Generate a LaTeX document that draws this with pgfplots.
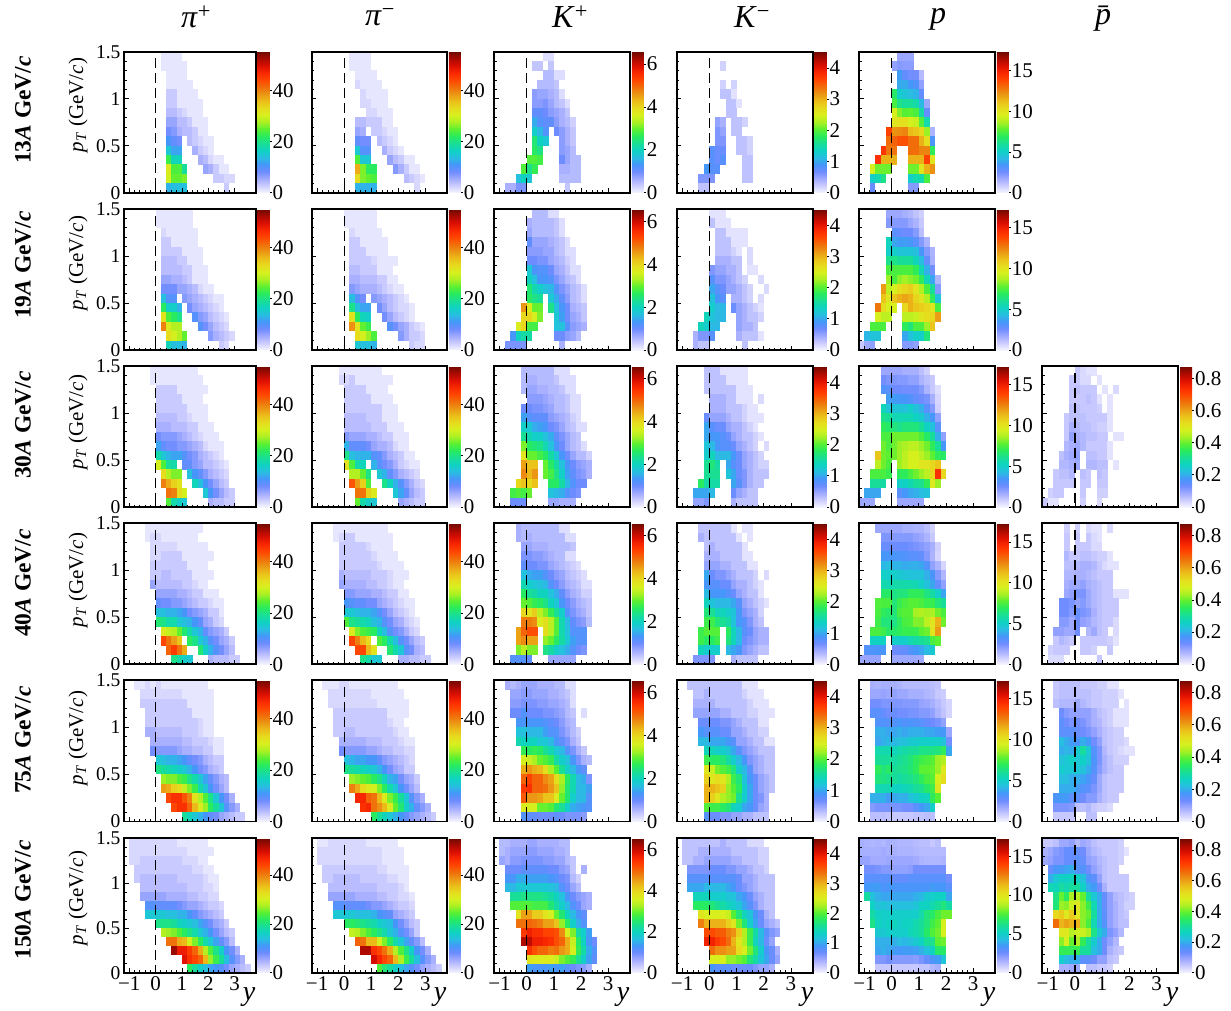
\documentclass[border=0pt]{standalone}
\usepackage{fontspec}
\setmainfont{Liberation Serif}
\usepackage{pgfplots}
\pgfplotsset{compat=1.18}
\newcount\rowk \newcount\binj
\def\mycoords{}
\def\R#1#2{\global\binj=#1\relax
 \pgfmathsetmacro\Ycur{0.1*\the\rowk+0.05}%
 \foreach \cv in {#2}{\if x\cv\else\pgfmathsetmacro\Xcur{0.2*\the\binj+0.1}\xdef\mycoords{\mycoords(\Xcur,\Ycur)[\cv]}\fi\global\advance\binj by 1 }%
 \global\advance\rowk by -1 }
\pgfdeclareplotmark{cell}{\pgfpathrectanglecorners{\pgfpoint{-\cellw pt}{-\cellh pt}}{\pgfpoint{\cellw pt}{\cellh pt}}\pgfusepathqfill}
\pgfplotsset{
 colormap={na}{rgb255(0pt)=(245,245,255);rgb255(5pt)=(205,205,255);rgb255(10pt)=(160,170,255);rgb255(15pt)=(110,140,255);rgb255(20pt)=(70,150,250);rgb255(25pt)=(40,190,225);rgb255(30pt)=(15,210,195);rgb255(35pt)=(25,222,150);rgb255(40pt)=(40,235,95);rgb255(45pt)=(90,240,50);rgb255(50pt)=(170,240,35);rgb255(55pt)=(215,240,30);rgb255(60pt)=(230,220,30);rgb255(65pt)=(235,190,25);rgb255(70pt)=(235,150,20);rgb255(75pt)=(240,110,10);rgb255(80pt)=(255,70,0);rgb255(85pt)=(250,40,0);rgb255(90pt)=(220,15,0);rgb255(95pt)=(170,10,0);rgb255(100pt)=(110,10,0)},
 panel/.style={scale only axis,xmin=-1.2,xmax=3.8,ymin=0,ymax=1.5,axis on top,clip mode=individual,
  axis line style={line width=1.8pt},
  xtick={-1,0,1,2,3},ytick={0,0.5,1,1.5},minor x tick num=4,minor y tick num=4,
  xtick pos=bottom,ytick pos=left,tick align=inside,
  major tick length=4.5pt,minor tick length=2.5pt,
  every tick/.style={black,line width=0.8pt},
  xticklabels={},yticklabels={},
  xticklabel style={font=\fontsize{21}{23}\selectfont},
  yticklabel style={font=\fontsize{19.5}{21}\selectfont},
  colorbar right,
  colorbar style={at={(parent axis.north east)},anchor=north west,xshift=-6.7pt,width=12pt,
   ytick pos=right,yticklabel pos=right,tick align=outside,major tick length=2pt,
   axis line style={draw=none},every tick/.style={black,line width=0.7pt},
   yticklabel style={font=\fontsize{21}{23}\selectfont,xshift=-2.5pt}},
 },
 pip/.style={point meta min=0,point meta max=55,colorbar style={ytick={0,20,40},yticklabels={0,20,40}}},
 kp/.style={point meta min=0,point meta max=6.57,colorbar style={ytick={0,2,4,6},yticklabels={0,2,4,6}}},
 km/.style={point meta min=0,point meta max=4.52,colorbar style={ytick={0,1,2,3,4},yticklabels={0,1,2,3,4}}},
 pr/.style={point meta min=0,point meta max=17.3,colorbar style={ytick={0,5,10,15},yticklabels={0,5,10,15}}},
 pb/.style={point meta min=0,point meta max=0.876,colorbar style={ytick={0,0.2,0.4,0.6,0.8},yticklabels={0,0.2,0.4,0.6,0.8}}},
 xl/.style={xticklabels={−1,0,1,2,3}},
 yl/.style={yticklabels={0,0.5,1,1.5}},
 hcell/.style={scatter,only marks,scatter src=explicit,mark=cell},
}
\newcommand\Panel[7]{\global\rowk=14 \gdef\mycoords{}#7%
 \pgfmathsetmacro\cellw{#3/50+0.1}\pgfmathsetmacro\cellh{#4/30+0.1}%
 \begin{axis}[panel,#5,#6,at={(#1pt,-#2pt)},anchor=north west,width=#3pt,height=#4pt]
 \edef\temp{\noexpand\addplot[hcell] coordinates {\mycoords};}\temp
 \addplot[black,line width=1.2pt,dash pattern=on 10pt off 5pt] coordinates {(0,1.43)(0,0)};
 \end{axis}}
% ---- pi+
\def\PPa{\R{1}{1,1,1,1}\R{1}{1,1,1,1,1}\R{2}{1,1,1,1}\R{2}{1,1,1,1,1}\R{2}{3,3,1,1,1,1}\R{2}{3,3,1,1,1,1,1}\R{2}{4,4,3,2,1,1,1}\R{2}{6,6,4,4,3,1,1,1}\R{2}{8,7,5,4,4,3,1,1}\R{2}{11,9,8,x,4,3,2,1,1}\R{2}{15,12,12,x,x,5,3,2,1}\R{2}{23,17,17,x,x,x,5,4,2,1,1}\R{2}{31,24,24,19,x,x,x,6,5,3,1,1}\R{2}{30,25,25,26,x,x,x,x,x,3,3,2,2}\R{2}{13,14,14,14,x,x,x,x,x,x,x,3}}
\def\PPb{\R{0}{1,1,1,1,1,1,1}\R{0}{1,1,1,1,1,1,1}\R{1}{2,1,1,1,1,1,1}\R{1}{3,3,1,1,1,1,1}\R{1}{3,3,3,3,1,1,1,1}\R{1}{4,4,4,3,3,1,1,1}\R{1}{4,4,4,4,3,3,1,1,1}\R{1}{6,6,5,5,4,3,1,1,1}\R{1}{8,8,8,6,6,5,4,2,1,1}\R{1}{14,10,10,x,7,6,5,4,3,2,1,1}\R{1}{22,16,16,13,x,8,6,5,4,3,2,1}\R{1}{32,24,22,20,x,x,10,7,6,4,3,2,1}\R{1}{40,31,28,28,x,x,x,10,8,6,4,3,2}\R{2}{33,30,28,25,x,x,x,x,7,5,4,3,2}\R{2}{17,14,14,13,x,x,x,x,x,x,3,2}}
\def\PPc{\R{-1}{1,1,1,1,1,1,1,1,1}\R{-1}{1,1,1,1,1,1,1,1,1,1}\R{0}{3,3,3,3,1,1,1,1,1,1}\R{0}{3,3,3,3,3,1,1,1,1}\R{0}{3,3,3,3,3,3,1,1,1,1}\R{0}{4,4,4,4,3,3,2,1,1,1}\R{0}{5,5,5,4,4,4,3,3,1,1,1}\R{0}{8,7,7,7,6,5,4,3,2,1,1,1}\R{0}{12,9,8,8,7,7,6,5,4,2,1,1,1}\R{0}{18,15,13,12,12,10,8,7,5,4,3,2,1}\R{0}{30,24,19,18,x,9,9,7,6,4,4,3,2,1}\R{1}{33,28,26,26,x,14,11,9,7,5,4,3,2}\R{1}{40,37,34,32,x,x,17,14,11,8,6,4,3}\R{2}{41,40,33,30,x,x,x,15,11,8,6,4,3}\R{2}{24,18,16,15,x,x,x,x,5,4,4,3,3}}
\def\PPd{\R{-2}{1,1,1,1,1,1,1,1,1,1,1}\R{-2}{1,2,2,1,1,1,1,1,1,1}\R{-1}{2,2,2,2,2,1,1,1,1,1,1}\R{-1}{2,2,3,3,3,3,1,1,1,1,1,1}\R{-1}{3,3,3,3,3,3,3,1,1,1,1}\R{-1}{3,3,4,4,3,3,3,3,1,1,1,1}\R{-1}{6,4,4,4,4,4,3,3,2,1,1}\R{0}{6,6,6,6,5,5,4,3,3,1,1,1}\R{0}{9,8,8,7,7,6,5,4,3,3,2,1,1}\R{0}{14,14,13,13,12,11,8,7,6,5,3,3,1}\R{0}{21,20,18,18,15,14,13,11,9,6,5,3,2}\R{1}{31,29,28,25,21,18,15,13,9,7,6,5,3}\R{1}{44,41,38,35,x,22,20,15,13,10,8,6,5,3}\R{2}{42,45,41,37,x,x,21,16,13,10,8,6,4}\R{3}{20,18,16,15,x,x,x,5,4,4,4,3,3}}
\def\PPe{\R{-4}{1,1,2,1,2,1,1,1,1,1,1,1,1,1}\R{-3}{2,2,2,2,2,2,2,2,1,1,1,1,1,1}\R{-3}{3,3,3,3,3,3,3,3,3,1,1,1,1,1}\R{-2}{3,3,3,3,3,3,3,3,3,1,1,1,1}\R{-2}{3,3,3,3,3,3,3,3,3,3,2,1,1}\R{-2}{5,5,4,4,4,4,4,3,3,3,2,1,1}\R{-1}{5,5,5,5,5,5,4,4,3,3,3,2,1,1}\R{-1}{8,7,7,7,7,6,5,5,4,4,3,3,1,1}\R{0}{15,14,13,13,12,11,9,8,7,5,4,3,3}\R{0}{20,19,18,17,16,15,13,11,8,7,5,4,3}\R{1}{27,26,26,24,23,20,18,15,12,9,7,5,4}\R{1}{38,37,34,33,29,26,23,18,15,11,8,6,4}\R{2}{44,46,46,43,40,32,28,24,20,15,11,8,5}\R{3}{44,46,46,42,36,31,27,22,19,15,10,7,5}\R{5}{19,17,15,13,11,9,8,6,5,4,3,3}}
\def\PPf{\R{-5}{2,2,2,2,2,2,2,2,2,1,1,1,1,1,1}\R{-5}{2,2,2,2,2,2,2,2,2,2,2,1,1,1,1,1}\R{-5}{2,2,3,3,3,3,3,3,3,3,2,2,2,1,1}\R{-4}{3,3,3,3,3,3,3,3,3,3,3,2,2,1,1}\R{-4}{3,4,4,4,4,4,4,4,3,3,3,3,3,2,1,1}\R{-3}{4,4,4,4,4,4,4,4,4,3,3,3,2,2,1}\R{-3}{6,6,6,6,6,5,5,5,5,4,4,3,3,2,2}\R{-2}{10,10,9,9,9,9,8,7,6,6,5,4,3,3,2}\R{-2}{15,15,15,15,14,14,13,13,11,9,7,6,5,4,3}\R{0}{20,20,20,19,17,16,15,14,12,10,8,6,5,3}\R{1}{28,27,26,24,22,20,18,15,13,11,8,6,4,3}\R{2}{41,41,37,36,30,26,22,18,15,12,9,7,4}\R{3}{53,48,48,45,42,37,28,24,20,16,11,8,5}\R{5}{49,46,44,42,36,27,23,19,14,10,7,5}\R{6}{22,19,16,14,12,11,10,8,6,5,4,3}}
% ---- pi-
\def\PMa{\R{1}{1,1,1,1}\R{1}{1,1,1,1}\R{2}{1,1,1,1}\R{2}{2,1,1,1,1}\R{3}{2,1,1,1,1}\R{3}{2,2,1,1,1}\R{4}{2,2,1,1,1}\R{2}{4,4,3,3,3,1,1}\R{2}{6,5,x,3,3,2,1,1}\R{2}{9,8,8,x,4,3,2,1}\R{2}{15,10,10,x,x,5,3,2,1}\R{2}{24,15,15,x,x,x,6,4,3,1,1}\R{2}{37,26,22,22,x,x,x,7,5,3,1,1}\R{2}{33,26,25,24,x,x,x,x,x,4,3,2,1}\R{2}{13,13,13,13,x,x,x,x,x,x,x,2}}
\def\PMb{\R{0}{1,1,1,1,1,1}\R{0}{1,1,1,1,1,1}\R{1}{2,1,1,1,1,1}\R{1}{3,3,1,1,1,1,1}\R{1}{3,3,3,1,1,1,1}\R{1}{3,3,3,3,2,1,1,1,1}\R{1}{4,4,3,3,3,1,1,1}\R{1}{5,5,4,4,4,3,3,1,1}\R{1}{7,6,5,5,5,4,3,2,1,1}\R{1}{14,10,8,x,7,6,5,4,3,2,1}\R{1}{20,14,12,12,x,8,6,4,3,2,2,1}\R{1}{32,22,17,16,x,x,8,6,4,3,2,1}\R{1}{39,32,25,23,x,x,x,10,8,6,5,3,2,1}\R{2}{33,30,27,24,x,x,x,x,7,5,3,3,2}\R{2}{15,14,14,13,x,x,x,x,x,x,3,2,2}}
\def\PMc{\R{-1}{1,1,1,1,1,1,1,1}\R{-1}{2,2,3,1,1,1,1,1,1,1}\R{0}{3,3,3,3,1,1,1,1}\R{0}{3,3,3,3,3,1,1,1,1}\R{0}{3,3,3,3,3,3,3,1,1,1}\R{0}{4,4,4,4,3,3,3,1,1,1}\R{0}{4,4,4,4,4,3,3,3,1,1,1}\R{0}{7,6,6,6,5,5,4,3,3,1,1,1}\R{0}{13,9,9,9,8,6,5,5,4,2,1,1}\R{0}{20,14,13,13,13,10,9,7,5,4,3,1,1}\R{0}{32,24,18,17,x,13,10,8,7,5,3,2,1,1}\R{1}{28,28,25,20,x,15,13,9,7,5,4,3,2}\R{1}{43,38,34,24,x,x,20,17,13,10,7,5,3,2}\R{2}{41,41,34,31,x,x,x,15,12,9,6,4,3}\R{2}{25,18,16,15,x,x,x,x,6,5,4,3,3}}
\def\PMd{\R{-2}{1,1,1,1,1,1,1,1,1,1}\R{-2}{1,2,3,3,1,1,1,1,1,1,1}\R{-1}{3,3,3,3,3,2,1,1,1,1}\R{-1}{3,3,3,3,3,3,2,1,1,1,1}\R{-1}{3,3,3,3,3,3,3,2,1,1,1,1}\R{-1}{5,4,4,4,4,4,3,3,3,2,1,1,1}\R{-1}{6,5,5,5,5,4,4,3,3,2,1,1}\R{0}{7,7,6,6,6,5,5,4,3,3,1,1}\R{0}{11,10,9,9,8,8,6,5,4,3,2,1,1}\R{0}{15,15,14,13,13,12,10,8,6,4,3,2,1}\R{0}{24,20,19,18,17,14,13,10,8,6,5,3,2,1}\R{1}{31,26,24,23,22,17,14,10,8,7,5,3,2}\R{1}{44,40,36,33,x,24,22,18,14,10,8,6,4,3}\R{2}{44,44,36,32,x,x,21,18,15,10,8,5,4}\R{3}{20,18,15,15,x,x,x,5,5,4,4,3,3}}
\def\PMe{\R{-4}{1,1,1,2,2,1,1,1,1,1,1,1,1,1}\R{-3}{2,2,2,2,2,2,2,2,1,1,1,1,1,1}\R{-3}{2,2,2,2,2,2,2,2,2,1,1,1,1,1,1}\R{-2}{3,3,3,3,3,3,3,3,3,3,1,1,1,1}\R{-2}{3,3,3,3,3,3,3,3,3,3,2,1,1}\R{-2}{3,3,4,4,3,3,3,3,3,3,3,2,1,1}\R{-1}{5,5,5,5,5,4,4,4,3,3,3,2,1,1}\R{-1}{8,7,7,7,7,6,6,5,4,4,3,3,2,2}\R{0}{14,13,12,12,11,11,9,7,6,5,4,3,2}\R{0}{20,19,18,17,16,15,13,11,8,6,5,3,3}\R{1}{27,26,25,24,22,20,17,13,12,8,6,5,3}\R{1}{40,37,33,31,30,26,22,18,15,11,8,6,4}\R{2}{47,47,42,41,36,31,26,23,19,15,10,7,5}\R{3}{46,47,41,39,36,31,25,21,16,13,9,7,5}\R{5}{22,19,17,15,13,11,9,7,6,5,4,3}}
\def\PMf{\R{-5}{1,1,2,2,2,2,2,2,2,1,1,1,1,1,1}\R{-5}{2,2,2,2,2,2,2,2,2,2,2,2,1,1,1,1}\R{-5}{2,2,2,2,2,2,2,2,2,2,2,2,1,1,1,1}\R{-4}{3,3,3,3,3,3,3,3,3,3,2,2,1,1,1,1}\R{-4}{3,3,4,4,4,4,4,3,3,3,3,3,2,2,1,1}\R{-3}{4,4,4,4,4,4,4,4,4,3,3,3,3,2,1}\R{-3}{6,6,6,6,6,5,5,5,5,4,4,3,3,2,2,1}\R{-2}{10,10,9,9,9,9,8,7,7,6,5,4,3,3,2}\R{-2}{15,15,15,15,14,14,14,13,11,10,9,6,5,4,3}\R{0}{22,22,21,20,19,18,16,15,14,11,8,6,4,3}\R{1}{29,28,26,24,22,20,18,15,13,10,8,6,3}\R{2}{42,41,36,36,30,26,22,18,15,12,9,7,4}\R{3}{52,52,46,44,41,37,28,24,20,16,11,8,5}\R{5}{50,47,44,42,36,28,23,19,14,10,7,5}\R{6}{24,21,19,16,14,12,10,8,6,5,4,3}}
% ---- K+
\def\KPa{\R{3}{0.2,0.2}\R{1}{0.4,0.4,x,0.4}\R{3}{0.5,0.5,0.2,0.2}\R{2}{0.5,0.5,0.5,0.4}\R{1}{0.8,0.7,0.7,0.6,0.5,0.2}\R{1}{0.8,0.8,0.9,0.7,0.5,0.4,0.2}\R{1}{1.1,1.1,1.0,0.8,0.7,0.6,0.4}\R{1}{1.5,1.2,1.1,1.1,0.8,0.6,0.5,0.3}\R{1}{1.9,1.6,1.2,x,1.0,0.8,0.6,0.4}\R{1}{2.5,2.0,1.8,x,x,0.8,0.6,0.4}\R{1}{2.6,2.4,x,x,x,0.8,0.7,0.5}\R{0}{2.9,2.9,2.8,x,x,x,1.0,0.7,0.5,0.5}\R{-1}{2.9,2.4,2.7,x,x,x,x,0.6,0.6,0.5,0.5}\R{-2}{1.7,2.0,1.8,x,x,x,x,x,0.5,0.5,0.5,0.5}\R{-4}{0.6,0.6,0.9,0.9,x,x,x,x,x,x,x,0.4}}
\def\KPb{\R{1}{0.5,0.5,0.5,0.2,0.2}\R{0}{0.6,0.5,0.5,0.5,0.5,0.4,0.2}\R{0}{0.7,0.5,0.5,0.5,0.5,0.4,0.2}\R{0}{1.1,0.7,0.7,0.7,0.6,0.5,0.4,0.2}\R{0}{0.8,0.8,0.8,0.7,0.7,0.5,0.4,0.2,0.2}\R{0}{1.0,1.0,0.9,0.9,0.7,0.6,0.5,0.3,0.2}\R{0}{1.8,1.3,1.2,1.2,1.0,0.7,0.6,0.4,0.2,0.2}\R{0}{2.0,1.7,1.3,1.3,1.2,0.9,0.7,0.5,0.4,0.2}\R{0}{2.5,2.1,1.9,1.7,1.6,1.2,0.9,0.7,0.5,0.4,0.2}\R{0}{2.6,2.4,2.3,x,1.8,1.5,1.1,0.8,0.5,0.4,0.2}\R{-1}{4.6,3.7,3.0,3.0,x,2.4,1.7,1.3,1.0,0.6,0.5,0.4}\R{-1}{4.0,4.0,3.6,3.1,x,x,1.8,1.4,1.0,0.7,0.6,0.4}\R{-2}{3.7,4.0,2.8,2.8,x,x,x,1.7,1.7,1.2,0.8,0.7,0.6}\R{-3}{1.3,2.0,2.2,2.2,x,x,x,x,1.0,1.0,0.8,0.7,0.5}\R{-4}{0.9,0.9,0.9,0.9,x,x,x,x,x,x,0.6}}
\def\KPc{\R{-1}{0.5,0.5,0.5,0.5,0.5,0.5,0.2,0.2,0.2}\R{-1}{0.5,0.6,0.6,0.5,0.5,0.5,0.4,0.2,0.2,0.2}\R{-1}{0.5,0.7,0.7,0.6,0.6,0.5,0.5,0.4,0.2,0.2}\R{0}{0.8,0.8,0.8,0.7,0.6,0.5,0.5,0.4,0.2,0.2}\R{-1}{1.0,1.0,0.9,0.9,0.8,0.7,0.5,0.5,0.4,0.2,0.2}\R{-1}{1.4,1.2,1.1,1.1,1.1,0.8,0.7,0.6,0.5,0.3,0.2}\R{-1}{1.9,1.8,1.5,1.4,1.3,1.0,0.9,0.7,0.5,0.4,0.2,0.2}\R{-1}{2.3,2.1,1.9,1.9,1.7,1.5,1.1,0.9,0.7,0.5,0.4}\R{-1}{3.1,2.6,2.5,2.4,2.1,1.7,1.3,1.0,0.7,0.5,0.4,0.2}\R{-1}{3.8,3.0,3.0,2.8,2.6,2.2,1.8,1.3,1.0,0.7,0.5,0.5,0.3}\R{-1}{4.5,4.2,4.2,x,3.0,2.6,2.2,1.7,1.3,1.0,0.8,0.7,0.6}\R{-1}{4.7,4.3,4.6,x,3.0,2.8,2.4,1.9,1.4,1.1,0.9,0.8,0.6}\R{-2}{4.0,4.2,4.0,4.2,x,x,2.6,2.6,2.2,1.6,1.2,1.0,1.0}\R{-3}{2.8,2.9,2.8,3.0,x,x,x,1.7,1.6,1.5,1.2,1.0,0.9}\R{-3}{1.0,1.0,1.0,x,x,x,x,0.7,0.7,0.6,0.6,0.6}}
\def\KPd{\R{-2}{0.6,0.5,0.5,0.5,0.5,0.5,0.5,0.5,0.2,0.2}\R{-2}{0.6,0.5,0.6,0.5,0.5,0.5,0.5,0.5,0.5,0.2,0.2}\R{-1}{0.7,0.7,0.6,0.6,0.6,0.5,0.5,0.5,0.5,0.4}\R{-1}{0.9,0.9,0.8,0.8,0.7,0.6,0.5,0.5,0.2,0.2}\R{-1}{1.1,1.0,1.0,0.9,0.9,0.7,0.6,0.5,0.4,0.3,0.2}\R{-1}{1.7,1.5,1.4,1.4,1.2,1.0,0.8,0.7,0.5,0.4,0.3,0.2}\R{-1}{2.1,1.9,1.8,1.7,1.6,1.2,1.0,0.8,0.6,0.5,0.4,0.2,0.2}\R{-1}{2.6,2.3,2.2,2.0,2.0,1.7,1.5,1.1,0.8,0.6,0.5,0.3,0.3}\R{-1}{3.0,2.9,2.7,2.6,2.4,2.0,1.8,1.3,1.0,0.8,0.6,0.5,0.4}\R{-1}{4.0,3.8,4.1,3.4,3.1,2.7,2.3,1.9,1.2,0.9,0.7,0.6,0.4}\R{-1}{4.8,4.8,4.7,3.7,3.9,3.4,2.9,2.1,1.6,1.1,0.9,0.8,0.5}\R{-2}{4.5,5.0,5.2,5.2,x,3.9,3.4,2.9,2.1,1.7,1.2,1.2,1.2}\R{-2}{4.5,4.7,4.5,4.5,x,3.2,3.0,2.6,2.2,1.8,1.4,1.2,1.2}\R{-2}{3.1,3.4,3.1,3.1,x,2.4,2.2,1.9,1.7,1.5,1.2,1.0,0.9}\R{-3}{1.2,1.2,1.2,1.1,x,x,x,0.7,0.7,0.7,0.7,0.7}}
\def\KPe{\R{-4}{0.6,0.5,0.6,0.7,0.7,0.7,0.6,0.6,0.6,0.5,0.5,0.2,0.2}\R{-3}{0.7,0.7,0.8,0.8,0.7,0.7,0.7,0.6,0.6,0.5,0.4,0.2}\R{-3}{0.8,0.8,0.9,0.9,0.9,0.8,0.8,0.7,0.7,0.6,0.5,0.2}\R{-3}{1.0,1.0,1.2,1.0,1.0,1.0,0.9,0.9,0.8,0.7,0.5,0.4,x,0.2}\R{-2}{1.3,1.3,1.3,1.3,1.3,1.2,1.1,1.0,0.8,0.6,0.5}\R{-2}{1.7,1.7,1.6,1.6,1.6,1.4,1.2,1.2,0.9,0.7,0.5,0.3}\R{-2}{2.1,2.0,2.0,2.0,1.8,1.8,1.6,1.3,1.1,0.9,0.6,0.4}\R{-1}{2.7,2.6,2.7,2.6,2.3,2.1,1.8,1.6,1.2,0.9,0.6,0.4}\R{-1}{3.6,3.5,3.3,3.0,2.9,2.7,2.2,1.9,1.7,1.3,0.9,0.6,0.5}\R{-1}{4.4,4.6,4.4,4.3,3.9,3.3,2.9,2.3,1.9,1.6,1.3,1.1}\R{-1}{5.0,5.3,5.0,5.0,4.7,4.5,3.9,3.3,2.6,2.1,1.6,1.5,0.9}\R{-1}{5.4,5.5,5.0,5.0,4.9,4.6,4.2,3.2,2.5,2.1,1.6,1.6,1.4}\R{-1}{5.1,4.6,4.6,4.5,4.2,4.2,3.7,3.0,2.5,1.9,1.6,1.6,1.2}\R{-1}{3.7,3.6,3.6,3.0,3.0,2.9,2.5,2.3,1.9,1.5,1.4,1.3,1.2}\R{-1}{1.2,1.1,1.1,1.0,1.0,1.0,1.1,1.0,0.9,0.9,0.9,0.8}}
\def\KPf{\R{-5}{0.5,0.5,0.6,0.6,0.6,0.7,0.7,0.6,0.6,0.6,0.6,0.5,0.5}\R{-5}{0.5,0.6,0.7,0.7,0.7,0.8,0.8,0.7,0.7,0.7,0.6,0.6,0.5}\R{-5}{0.7,0.6,0.8,0.8,0.9,0.9,0.9,0.9,0.8,0.8,0.7,0.7,0.5,0.4}\R{-4}{1.0,1.0,1.0,1.1,1.1,1.1,1.1,1.1,1.0,1.0,0.8,0.7,0.4,x,0.6}\R{-4}{1.3,1.3,1.5,1.5,1.4,1.4,1.4,1.4,1.3,1.2,1.0,0.9,0.5,0.3}\R{-4}{1.6,1.6,1.8,1.8,1.8,1.8,1.8,1.8,1.7,1.6,1.2,1.0,0.7,0.5}\R{-3}{2.3,2.3,2.4,2.4,2.4,2.4,2.3,2.2,2.0,1.7,1.3,1.0,0.8,0.7,0.6}\R{-3}{2.9,2.9,2.9,2.9,2.8,2.8,2.8,2.5,2.2,1.9,1.6,1.2,1.0,0.7,0.6}\R{-2}{3.8,4.5,4.5,4.1,4.1,3.8,3.6,3.0,2.5,2.0,1.6,1.3,1.1}\R{-2}{4.9,4.9,5.0,4.9,4.8,4.5,4.5,4.2,3.2,2.6,1.9,1.5,1.2}\R{-1}{5.4,5.7,5.5,5.5,5.3,5.3,5.2,4.7,3.6,3.1,2.2,1.9,1.4}\R{-1}{6.2,6.1,5.7,5.7,5.6,5.5,5.2,5.0,4.4,3.5,2.6,2.0,1.3,1.0}\R{0}{5.5,5.2,5.0,5.0,4.8,4.9,4.6,4.4,3.6,2.7,2.2,1.5,1.2}\R{0}{3.8,3.7,3.7,3.7,3.7,3.5,3.1,2.9,2.7,2.3,1.9,1.4,1.1}\R{0}{1.4,1.3,1.3,1.3,1.4,1.3,1.4,1.2,1.0,0.9,0.8,0.6}}
% ---- K-
\def\KMa{\R{0}{x}\R{2}{0.2}\R{0}{x}\R{2}{0.2,x,0.2}\R{2}{0.3,0.3,0.1}\R{3}{0.3,0.3,0.1}\R{3}{0.3,0.3}\R{1}{0.5,0.4,x,0.3,0.3,0.2}\R{1}{0.6,0.5,x,0.3,0.3}\R{1}{0.6,0.6,x,x,0.3,0.3,0.2}\R{0}{0.8,0.7,0.7,x,x,0.3,0.3,0.2}\R{0}{0.8,0.7,0.8,x,x,x,0.3,0.3}\R{-1}{0.9,0.8,0.8,x,x,x,x,0.3,0.3}\R{-2}{0.6,0.6,0.6,x,x,x,x,x,0.3,0.3}\R{-2}{0.3,0.3}}
\def\KMb{\R{0}{0.1,0.1,0.1}\R{0}{0.3,0.1,0.1,0.1}\R{1}{0.3,0.3,0.1,0.1,0.1,0.1}\R{1}{0.3,0.3,0.3,0.1,0.1,0.1}\R{1}{0.3,0.3,0.3,0.2,0.1,x,0.15}\R{1}{0.4,0.4,0.4,0.3,0.3,x,0.15}\R{0}{0.6,0.5,0.5,0.4,0.4,0.3,x,0.1,0.1}\R{0}{0.8,0.6,0.6,0.5,0.4,0.3,0.2,x,x,0.15}\R{0}{1.0,0.8,0.7,0.5,0.5,0.4,0.3,0.2,x,x,0.15}\R{0}{1.2,0.9,0.8,x,0.4,0.4,0.3,0.2,x,0.15}\R{0}{1.3,1.1,1.1,x,0.7,0.5,0.4,0.3,0.2,0.1}\R{-1}{1.4,1.2,1.1,1.1,x,x,0.5,0.4,0.3,0.3,0.2}\R{-2}{1.4,1.3,1.1,1.1,x,x,x,0.5,0.4,0.4,0.3}\R{-3}{0.4,0.6,0.6,0.8,x,x,x,x,0.4,0.3,0.3,0.3,0.1}\R{-3}{0.4,0.3,0.3,x,x,x,x,x,x,0.3}}
\def\KMc{\R{-1}{0.3,0.3,0.3,0.1,0.1,0.1,0.1,0.1}\R{-1}{0.3,0.3,0.3,0.3,0.1,0.1,0.1,0.1}\R{-1}{0.3,0.3,0.3,0.3,0.3,0.3,0.1,0.1,0.1}\R{0}{0.4,0.4,0.4,0.3,0.3,0.1,0.1,0.1,x,0.15}\R{0}{0.4,0.4,0.4,0.3,0.3,0.3,0.2,0.1,0.1}\R{-1}{0.7,0.5,0.5,0.5,0.4,0.3,0.3,0.2,0.1,0.1,0.1}\R{-1}{1.0,0.8,0.7,0.7,0.5,0.4,0.4,0.3,0.2,0.1}\R{-1}{1.0,0.9,0.9,0.8,0.7,0.5,0.4,0.3,0.3,0.2,0.1}\R{-1}{1.2,1.1,0.9,0.8,0.8,0.7,0.5,0.4,0.3,0.2,x,0.15}\R{-1}{1.3,1.4,1.1,1.1,1.1,0.9,0.7,0.5,0.4,0.3,0.2}\R{-1}{1.6,1.7,1.5,x,1.0,0.8,0.7,0.5,0.4,0.3,0.2,0.2}\R{-1}{1.6,1.6,1.6,x,1.2,1.0,0.7,0.6,0.4,0.3,0.3,0.3}\R{-2}{1.8,1.5,1.5,1.5,x,x,1.0,0.8,0.6,0.4,0.3,0.3}\R{-3}{1.0,1.0,1.0,1.1,x,x,x,0.7,0.5,0.4,0.3,0.3}\R{-3}{0.5,0.5,0.6,x,x,x,x,0.4,0.3,0.3,0.3,0.3}}
\def\KMd{\R{-2}{0.3,0.3,0.3,0.3,0.3,0.3,0.1,x,0.1,0.1}\R{-2}{0.4,0.3,0.3,0.3,0.3,0.3,0.3,0.1,x,0.1}\R{-1}{0.3,0.4,0.3,0.3,0.3,0.3,0.3,0.1}\R{-1}{0.4,0.4,0.4,0.3,0.3,0.3,0.3,0.1,0.1}\R{-1}{0.5,0.5,0.5,0.4,0.4,0.3,0.3,0.3,0.1,0.1}\R{-1}{1.0,0.7,0.6,0.6,0.5,0.4,0.3,0.3,0.3,0.2,x,0.15}\R{-1}{0.9,0.8,0.8,0.7,0.7,0.5,0.4,0.4,0.3,0.2,0.1}\R{-1}{1.1,0.9,0.9,0.9,0.8,0.7,0.5,0.4,0.3,0.3,0.1}\R{-1}{1.4,1.2,1.1,1.1,1.1,1.0,0.8,0.5,0.4,0.3,0.2,0.1}\R{-1}{1.7,1.6,1.4,1.4,1.3,1.2,0.9,0.6,0.5,0.4,0.2}\R{-1}{1.9,1.9,1.7,1.6,1.5,1.2,0.9,0.8,0.6,0.4,0.3}\R{-2}{1.9,2.0,2.0,2.0,x,1.8,1.4,1.1,0.8,0.7,0.5,0.4,0.4}\R{-2}{1.9,1.8,1.8,1.9,x,1.7,1.4,1.1,0.7,0.6,0.5,0.4,0.4}\R{-2}{1.4,1.3,1.3,1.3,x,1.1,1.0,0.9,0.6,0.5,0.4,0.3,0.3}\R{-3}{0.6,0.6,0.6,0.6,x,x,x,0.4,0.3,0.3,0.3,0.3}}
\def\KMe{\R{-4}{0.3,0.3,0.3,0.3,0.3,0.3,0.3,0.3,0.3,0.3,0.1,0.1,0.1}\R{-3}{0.3,0.3,0.4,0.3,0.3,0.3,0.3,0.3,0.3,0.2,0.1,0.1,0.1}\R{-3}{0.4,0.4,0.4,0.4,0.3,0.3,0.3,0.3,0.3,0.3,0.2,0.1,0.1,0.1}\R{-3}{0.5,0.5,0.5,0.5,0.5,0.4,0.4,0.3,0.3,0.3,0.2,0.2,0.1,0.1,0.1}\R{-2}{0.7,0.7,0.7,0.7,0.6,0.6,0.5,0.4,0.3,0.3,0.3,0.1,0.1}\R{-2}{0.9,0.8,0.8,0.8,0.7,0.7,0.5,0.5,0.4,0.3,0.3,0.2,0.2}\R{-2}{1.1,1.1,1.0,1.0,1.0,0.9,0.8,0.5,0.5,0.4,0.3,0.3,0.1,0.1}\R{-1}{1.4,1.4,1.3,1.3,1.2,1.0,0.8,0.6,0.5,0.4,0.3,0.3,0.3}\R{-1}{1.9,1.8,1.8,1.7,1.5,1.3,1.1,0.9,0.6,0.5,0.4,0.3,0.3}\R{-1}{2.6,2.4,2.1,2.0,1.9,1.7,1.3,1.1,0.8,0.5,0.4,0.3,0.3}\R{-1}{2.8,2.6,2.7,2.6,2.3,1.9,1.7,1.2,0.9,0.7,0.5,0.4,0.3}\R{-1}{3.0,3.0,2.9,2.8,2.2,2.0,1.8,1.3,1.0,0.7,0.5,0.4,0.3}\R{-1}{3.0,2.8,2.6,2.3,2.2,2.1,1.6,1.3,1.0,0.7,0.6,0.4}\R{-1}{2.0,1.9,1.9,1.8,1.7,1.4,1.3,1.0,0.9,0.7,0.5,0.4}\R{-1}{0.8,0.7,0.7,0.6,0.6,0.5,0.5,0.4,0.4,0.3,0.3,0.3}}
\def\KMf{\R{-5}{0.3,0.3,0.3,0.3,0.3,0.3,0.3,0.4,0.3,0.3,0.3,0.3,0.15,0.15,0.15}\R{-5}{0.3,0.3,0.3,0.4,0.4,0.4,0.4,0.4,0.4,0.3,0.3,0.3,0.3,0.3,0.2,0.2}\R{-5}{0.3,0.3,0.4,0.4,0.5,0.5,0.5,0.5,0.5,0.4,0.4,0.3,0.3,0.3,0.2,0.2}\R{-4}{0.6,0.6,0.6,0.6,0.7,0.7,0.7,0.6,0.6,0.5,0.5,0.4,0.3,0.3,0.2}\R{-4}{0.8,0.8,0.8,0.8,0.8,0.8,0.8,0.8,0.8,0.7,0.5,0.5,0.4,0.3,0.3,0.3}\R{-4}{1.0,1.0,1.0,1.1,1.1,1.1,1.1,1.0,0.9,0.7,0.6,0.5,0.4,0.3,0.3,0.3}\R{-3}{1.4,1.4,1.4,1.3,1.3,1.3,1.2,1.2,1.0,0.9,0.7,0.5,0.4,0.3,0.3}\R{-3}{1.8,1.8,1.8,1.7,1.6,1.5,1.4,1.3,1.2,1.0,0.8,0.6,0.4,0.3,0.3}\R{-2}{2.6,2.5,2.5,2.5,2.5,2.4,2.0,1.7,1.4,1.2,0.9,0.7,0.4,0.3}\R{-2}{3.3,3.0,3.0,3.0,3.0,2.8,2.6,2.1,1.7,1.3,1.0,0.7,0.5,0.4,0.3}\R{-1}{3.6,3.6,3.5,3.5,3.3,3.2,2.8,2.3,1.9,1.5,1.1,0.8,0.6,0.5}\R{-1}{3.9,3.9,3.7,3.6,3.4,3.0,2.6,2.3,1.9,1.4,1.1,0.7,0.5}\R{0}{3.4,3.2,3.2,3.1,3.1,2.7,2.5,2.1,1.7,1.3,0.9,0.7,0.4}\R{0}{2.5,2.5,2.5,2.2,2.2,2.1,2.0,1.7,1.5,1.2,1.0,0.7,0.5}\R{0}{0.9,0.8,0.8,0.8,0.7,0.7,0.7,0.7,0.6,0.5,0.5,0.4}}
% ---- p
\def\PRa{\R{1}{1.8,1.8,1.8}\R{0}{2,2.2,2.1,2.1}\R{1}{3.6,2.8,2.5,2.5,1.3}\R{1}{3.9,3.9,3.5,3.2,2.0}\R{0}{6.8,5,4.6,4.3,4.1,2.8}\R{0}{7.5,6.3,6,6,5.7,4.2,1.8}\R{0}{9.5,8.2,7.7,7.8,7.5,5.8,2.8}\R{0}{10,10.2,10.2,9.5,9.2,7.6,5.6}\R{-1}{14,12.2,12.3,12.5,11.3,11.0,10.5,8.5,1.5}\R{-1}{13,13.2,13.6,13.6,13,13,11.5,10.3,3.3}\R{-2}{14.3,12.8,12.8,x,x,13,13,12.5,12.5,7}\R{-3}{14.5,11.5,11.5,11.5,x,x,11.5,11.5,11.5,14,10}\R{-4}{9.5,8,8,8,x,x,x,8,8,10,11.5,12.2}\R{-4}{5,5.5,6.3,x,x,x,x,5,5.6,5.6,7.5}\R{-4}{2.7,x,x,x,x,x,x,2.2,2.2}}
\def\PRb{\R{-1}{1.8,1.8,1.8,1.6,1.4,1.1,0.8}\R{-1}{2.2,2.2,2.2,2.2,1.8,1.5,1.0}\R{0}{3,2.8,2.6,2.6,2.2,1.2}\R{-1}{5.3,3.8,3.6,3.6,3.5,3,2.2,1.5}\R{-1}{5,5,4.6,4.6,4.6,4.4,3.4,2.2,1.5}\R{-1}{6.2,6.3,6,6,6,5.4,4.3,2.8,1.6}\R{-1}{7.5,7.5,7.5,7.5,7.5,7,5.5,4,2.5}\R{-1}{8.5,7.5,8.3,8.6,8.3,8,7,5.4,3.8,1.4}\R{-2}{12,9,9.5,10.3,10.5,10.8,10,8.8,7.5,6,2.2}\R{-2}{11,10,11,11.5,11.8,11.5,10.6,10,8.8,7,4.5}\R{-3}{12.8,10.3,9.5,9.5,x,10.5,11.5,11,10.8,10.5,10,7.5}\R{-3}{9.5,9,9,x,x,9,9,9.2,10,10.3,10.5,12}\R{-4}{7.5,7.5,7.5,x,x,x,7,6.5,7.5,7.5,8.5,11}\R{-5}{4.2,4.5,4.5,x,x,x,x,3.8,4.5,5,5,6.5}\R{-6}{1,1.8,2,x,x,x,x,x,2.2,2.2,2}}
\def\PRc{\R{-2}{1.8,1.8,1.8,1.8,1.6,1.6,1.6,1.2,0.8}\R{-2}{2.5,2.3,2.3,2.2,2.2,2,2,1.5,1.2,1}\R{-2}{3.2,3,2.6,2.6,2.5,2.5,2.5,2.2,1.5,1,0.5}\R{-1}{3.6,3.6,3.5,3.4,3.2,2.8,2.6,2.4,1.6,0.7}\R{-2}{5.4,4.6,4.6,4.6,4.5,5,4.5,4,3,2.2,0.8}\R{-2}{6.2,6,5.5,5.5,5.5,5.5,5.2,4.8,4,3.5,2}\R{-2}{7,6.8,6.5,6.2,6.5,6.5,6.5,6,5.2,4.5,3}\R{-2}{7.5,7.5,8,8,8,8,8,7.5,6.8,6,4,2}\R{-2}{8,7.5,8,8.5,8.7,9,9,8.5,8,7,6,3.5}\R{-3}{11,8,7.8,8,8.5,9,9.5,9.5,9,8.5,7.8,7,6.8}\R{-3}{9,8,7.5,x,8.5,9,9.5,9.5,10,10,10.5,11}\R{-4}{7.5,7.5,7.5,7.2,x,7,7,7.5,8,8.5,9,10.5,14.5,10.5}\R{-4}{6,6,5.8,x,x,5,5.2,5.5,6,6.2,7,9.8,8.5}\R{-5}{3.8,3.8,3.8,x,x,x,3,3.5,3.8,4,4.3,4.5}\R{-6}{1.8,1.8,1.8,x,x,x,x,1.8,1.8,1.8,1.8,1.8}}
\def\PRd{\R{-3}{1.8,1.8,1.8,1.8,1.8,1.6,1.6,1.5,1.5,1.2,0.8}\R{-2}{2.3,2.3,2.2,2.2,2.2,2.2,2,1.8,1.5,1}\R{-2}{2.7,2.7,2.6,2.7,2.7,2.5,2.4,2.2,2,1.6,0.8}\R{-2}{3.5,3.4,3.4,3.3,3.2,3,3,2.8,2.2,1.5,0.7}\R{-2}{4.2,4.3,4.1,4.1,3.9,4,4,3.8,3.2,2,1.5,0.7}\R{-2}{5.1,5,5,4.8,4.6,4.5,4.5,4.5,4,3.4,2.2,1.4}\R{-2}{5.6,5.5,5.7,5.7,5.7,5.6,5.5,5,4.5,3.8,2.8,2}\R{-2}{6.8,6.8,6.3,6.5,6.5,7,7,7,6.4,5.8,5,3.8}\R{-3}{7.6,7.5,7.5,6.5,7.2,7.5,7.7,7.7,7.5,7.2,7.2,6.5,6}\R{-3}{7.5,7,6.8,6.5,7.5,7.7,7.7,8.6,8.8,8.6,8.7,8,7.5}\R{-3}{7.3,6.5,6.5,6.3,7,7.5,7.6,8.2,8.2,9,10,11.5,8}\R{-4}{7.5,7.5,7.3,6.8,6.8,7,7.2,7.2,7.2,7.8,8,10,12}\R{-4}{5.2,5.2,5.2,x,5,5,5,5.5,5.8,6,6.2,7.5,7.8}\R{-5}{3.2,3.3,3.4,3.4,x,2.6,2.7,2.8,3.2,3.5,3.8,4.3,4.8}\R{-6}{1.8,1.9,1.9,1.9,x,x,1.8,1.8,1.8,1.8,1.8,1.7}}
\def\PRe{\R{-4}{1.6,1.5,1.6,1.6,1.6,1.5,1.3,1.3,1.3,1.3,1.3,1.2,1.1}\R{-4}{1.8,1.8,1.9,1.8,2,1.8,1.8,1.6,1.6,1.6,1.4,1.3,1,0.9}\R{-4}{2.5,2.5,2.3,2.3,2.3,2.3,2.2,2.2,2.2,1.9,1.8,1.6,1.3,1,0.7}\R{-4}{3,3,2.8,2.5,2.7,2.5,2.5,2.4,2.4,2.2,2.2,2,1.5,1.1,0.7}\R{-3}{3.2,3.2,3.1,3.2,3.4,3.2,3.3,3.2,3,2.8,2.6,2.4,2}\R{-3}{4,4,3.8,3.8,4,3.8,4,4,4,3.8,3.8,3.6,3.5,1.8}\R{-3}{3.8,4,4.2,4.2,4.4,4.5,4.8,4.9,5,5,5,5,4.5,2.5}\R{-3}{5.6,5.6,5.6,5.4,5.6,5.8,6,6,6.3,6.3,6.3,6.5,7,3.8}\R{-3}{6,6,6,5.8,6,6.2,6.5,7,7.3,7.5,7.7,8.5,8.8}\R{-3}{7,6.5,6.8,6,6.2,6.3,6.6,7,7.8,7.8,7.9,8.5,9.8}\R{-3}{6.5,6.4,6.2,6,5.8,6,6.2,6.5,7,7.5,7.7,9.5,10.3}\R{-3}{5.5,5.5,5.5,5.2,5.2,5.4,5.6,6,6.2,6.8,7.3,10}\R{-4}{4,4,4,3.6,3.8,4,4,4.5,4.8,5.2,5.3,7,7.7}\R{-4}{2.2,2.4,2.4,2.4,2.4,2.4,2.5,2.5,3,3.5,3.8,5}\R{-4}{1.2,1.2,1.2,1.1,1,1,1,1,1.1,1.1,1.2,1.2}}
\def\PRf{\R{-6}{1.6,1.5,1.4,1.5,1.4,1.6,1.5,1.4,1.4,1.4,1.3,1.2,1.2,1,1.2}\R{-6}{1.6,1.6,1.6,1.6,1.7,1.6,1.6,1.5,1.5,1.5,1.4,1.3,1.3,1.3,1.3,1.3}\R{-6}{1.9,1.9,1.7,1.7,1.7,1.8,1.8,1.8,1.8,1.8,1.7,1.5,1.4,1.4,1.4,1.5}\R{-5}{2.5,2.5,2.4,2.2,2.2,2,2,2,2.1,2.5,2.5,2.5,2.5,2.5,2.5}\R{-5}{3,3,3,3,3,2.8,2.8,2.8,3,3,3,3,3,3,3,2.5}\R{-5}{3.5,3.6,3.6,3.3,3.5,3.4,3.4,3.4,3.4,3.4,3.4,3.4,3.6,3.5,3.5,3}\R{-5}{5.8,4.5,4,3.8,3.8,3.8,3.8,3.8,3.8,4,4.2,4.8,5,5.2,5.2,3.8}\R{-4}{5.2,4.5,4.6,4.4,4.4,4.4,4.4,4.4,4.6,5.2,5.2,5.6,6,6.5,5.8}\R{-4}{5.8,5.2,5,5,5,5,5,5,5,5.7,6.5,6.8,7.5,8,8}\R{-4}{6.3,5.3,5,5.2,5.3,5,5.2,5.3,5.6,6,6.5,7.3,7.8,9.5}\R{-3}{4.8,4.8,5,5,5,5,5.4,5.6,6,6.8,7.6,8,9.5}\R{-3}{4,4,4,4,4.3,4.2,4.4,4.8,5.2,6,6.2,7.8,8}\R{-3}{3.8,4,3.8,3.6,3.5,3.6,3.6,3.7,4,4.5,5.2,6.8,6.8}\R{-3}{2.3,2.3,2.5,2.2,2.2,2.2,2.2,2.1,2.4,2.8,3.3,3.6,4.6}\R{-3}{1,1,1,1,1,1,1,1,1.1,1.1,1.4,1.6}}
% ---- pbar
\def\PBc{\R{0}{0.05,0.03,0.02,0.02}\R{-1}{0.05,0.05,0.03,0.03,x,0.02}\R{-1}{0.05,0.06,0.05,0.05,0.05,x,0.02,x,0.03}\R{-1}{0.05,0.05,0.05,0.06,0.05,0.02,x,0.02}\R{-1}{0.06,0.06,0.05,0.05,0.05,0.04,x,0.02}\R{-2}{0.05,0.06,0.06,0.06,0.05,0.05,0.05,0.05,0.02}\R{-2}{0.05,0.08,0.07,0.06,0.06,0.05,0.04,0.04,0.02}\R{-2}{0.05,0.1,0.08,0.07,0.06,0.06,0.05,0.05,x,0.02,0.02}\R{-2}{0.07,0.08,0.09,0.07,0.05,0.05,0.05,0.05,0.02}\R{-3}{0.06,0.08,0.09,0.1,x,0.06,0.06,0.05,0.05,0.02}\R{-3}{0.07,0.07,0.08,0.09,x,0.07,0.07,0.06,0.06,x,0.02}\R{-4}{0.05,0.06,0.06,0.07,x,0.06,0.05,x,0.06,0.05}\R{-4}{0.05,0.05,0.05,0.05,x,0.05,0.05,x,0.05,0.05}\R{-5}{0.04,0.05,0.05,x,x,x,0.05,x,x,0.04,0.04}\R{-6}{0.05,0.02,0.02,x,x,x,x,0.04,x,x,0.03}}
\def\PBd{\R{-2}{0.04,x,0.04,x,0.03,0.02,0.02,x,0.03}\R{-2}{0.05,x,0.05,x,0.05,0.03,0.02}\R{-2}{0.05,x,0.05,0.05,0.05,0.03,0.03}\R{-2}{0.07,0.05,0.05,0.06,0.06,0.05,0.04,0.04,0.02}\R{-2}{0.06,0.06,0.07,0.08,0.08,0.07,0.05,0.03,0.02,0.02}\R{-2}{0.07,0.07,0.08,0.08,0.07,0.06,0.05,0.05,0.05}\R{-2}{0.08,0.09,0.09,0.1,0.08,0.07,0.06,0.05,0.05}\R{-2}{0.09,0.1,0.12,0.12,0.09,0.07,0.06,0.05,0.05,0.02,0.02,0.02}\R{-3}{0.13,0.13,0.12,0.1,0.11,0.09,0.07,0.06,0.05,0.05,0.05}\R{-3}{0.13,0.13,0.11,0.14,0.12,0.11,0.08,0.06,0.05,0.05,0.05}\R{-3}{0.11,0.11,0.09,0.13,0.1,0.09,0.07,0.06,0.05,0.05,0.03}\R{-4}{0.1,0.1,0.09,0.09,0.13,x,0.07,0.09,0.06,0.05,x,0.03}\R{-4}{0.05,0.07,0.06,0.05,x,0.05,0.05,0.05,0.05,0.05,0.04,0.02}\R{-5}{0.04,0.05,0.05,0.05,x,x,0.05,0.05,0.04,x,x,0.05}\R{-5}{0.03,0.03,0.03,x,x,x,x,x,x,0.05}}
\def\PBe{\R{-4}{0.05,0.06,0.06,0.06,0.06,0.05,0.05,0.05,0.04,0.04,0.02,0.02}\R{-4}{0.05,0.06,0.06,0.06,0.06,0.06,0.06,0.05,0.05,0.04,0.04,0.04,0.02}\R{-4}{0.06,0.07,0.07,0.07,0.09,0.07,0.06,0.05,0.05,0.04,0.04,0.04,x,0.02}\R{-3}{0.13,0.11,0.1,0.1,0.1,0.1,0.08,0.06,0.05,0.04,0.02,0.02,0.02}\R{-3}{0.15,0.13,0.12,0.13,0.12,0.1,0.08,0.07,0.05,0.04,0.02,0.02,0.02}\R{-3}{0.15,0.15,0.15,0.14,0.13,0.12,0.1,0.08,0.06,0.05,0.04,0.04}\R{-3}{0.22,0.2,0.18,0.17,0.2,0.18,0.13,0.1,0.06,0.05,0.04,0.04,0.03}\R{-3}{0.2,0.21,0.2,0.25,0.3,0.24,0.16,0.12,0.07,0.05,0.04,0.03,0.02,0.02}\R{-3}{0.23,0.24,0.26,0.24,0.26,0.23,0.17,0.12,0.08,0.06,0.04,0.04,0.04}\R{-3}{0.25,0.24,0.24,0.24,0.23,0.2,0.16,0.11,0.08,0.06,0.05,0.05}\R{-3}{0.22,0.22,0.2,0.2,0.19,0.17,0.14,0.09,0.06,0.05,0.05,0.05}\R{-3}{0.2,0.2,0.2,0.18,0.16,0.15,0.12,0.09,0.06,0.05,0.05,0.05}\R{-4}{0.17,0.18,0.18,0.15,0.15,0.13,0.11,0.11,0.08,0.06,0.05,0.05}\R{-4}{0.12,0.12,0.12,0.11,0.06,0.06,0.07,0.05,0.04,0.04,0.03}\R{-4}{0.05,0.05,0.05,0.05,x,x,0.06,0.06}}
\def\PBf{\R{-6}{0.05,0.05,0.06,0.09,0.09,0.1,0.07,0.09,0.08,0.06,0.05,0.05,0.05,0.05,0.04}\R{-6}{0.08,0.09,0.11,0.12,0.14,0.14,0.14,0.13,0.09,0.07,0.06,0.05,0.05,0.05,0.04,0.02}\R{-6}{0.09,0.1,0.12,0.12,0.14,0.14,0.15,0.14,0.1,0.09,0.07,0.06,0.05,0.05,0.04}\R{-5}{0.14,0.17,0.18,0.19,0.2,0.16,0.16,0.13,0.1,0.08,0.06,0.05,0.05}\R{-5}{0.2,0.24,0.26,0.26,0.27,0.26,0.23,0.17,0.15,0.1,0.06,0.05,0.05,0.05,0.05}\R{-5}{0.28,0.27,0.3,0.28,0.3,0.3,0.26,0.2,0.18,0.13,0.08,0.05,0.05,0.05,0.05}\R{-4}{0.32,0.4,0.35,0.44,0.45,0.4,0.3,0.24,0.2,0.14,0.1,0.07,0.06,0.05,0.04}\R{-4}{0.33,0.43,0.42,0.47,0.5,0.42,0.37,0.28,0.2,0.14,0.1,0.08,0.06,0.04,0.04}\R{-4}{0.53,0.55,0.5,0.55,0.5,0.42,0.4,0.3,0.2,0.15,0.1,0.08,0.06,0.05}\R{-4}{0.66,0.58,0.6,0.58,0.58,0.42,0.38,0.28,0.2,0.16,0.1,0.08,0.06,0.06}\R{-3}{0.5,0.5,0.45,0.47,0.47,0.44,0.32,0.24,0.2,0.12,0.1,0.07}\R{-3}{0.42,0.48,0.4,0.44,0.36,0.3,0.25,0.2,0.13,0.1,0.07}\R{-3}{0.36,0.36,0.36,0.36,0.3,0.3,0.22,0.2,0.13,0.08,0.06,0.05}\R{-3}{0.25,0.22,0.2,0.2,0.15,0.15,0.13,0.1,0.1,0.06,0.05}\R{-3}{0.08,0.08,0.09,0.09,x,0.06,0.06,0.05,0.05,0.04}}
\begin{document}
\begin{tikzpicture}
\path[use as bounding box] (0pt,0pt) rectangle (1231pt,-1010pt);
\def\colA{124}\def\wA{131.7}\def\colB{311.7}\def\wB{135.3}\def\colC{494}\def\wC{136}\def\colD{676.7}\def\colE{859}\def\colF{1042.3}
\def\rA{51.7}\def\rB{209}\def\rC{366}\def\rD{523.3}\def\rE{680}\def\rF{838.3}
% row 1
\Panel{\colA}{\rA}{\wA}{141}{pip}{yl}{\PPa}\Panel{\colB}{\rA}{\wB}{141}{pip}{}{\PMa}\Panel{\colC}{\rA}{\wC}{141}{kp}{}{\KPa}\Panel{\colD}{\rA}{\wC}{141}{km}{}{\KMa}\Panel{\colE}{\rA}{\wC}{141}{pr}{}{\PRa}
% row 2
\Panel{\colA}{\rB}{\wA}{141}{pip}{yl}{\PPb}\Panel{\colB}{\rB}{\wB}{141}{pip}{}{\PMb}\Panel{\colC}{\rB}{\wC}{141}{kp}{}{\KPb}\Panel{\colD}{\rB}{\wC}{141}{km}{}{\KMb}\Panel{\colE}{\rB}{\wC}{141}{pr}{}{\PRb}
% row 3
\Panel{\colA}{\rC}{\wA}{141}{pip}{yl}{\PPc}\Panel{\colB}{\rC}{\wB}{141}{pip}{}{\PMc}\Panel{\colC}{\rC}{\wC}{141}{kp}{}{\KPc}\Panel{\colD}{\rC}{\wC}{141}{km}{}{\KMc}\Panel{\colE}{\rC}{\wC}{141}{pr}{}{\PRc}\Panel{\colF}{\rC}{\wC}{141}{pb}{}{\PBc}
% row 4
\Panel{\colA}{\rD}{\wA}{141}{pip}{yl}{\PPd}\Panel{\colB}{\rD}{\wB}{141}{pip}{}{\PMd}\Panel{\colC}{\rD}{\wC}{141}{kp}{}{\KPd}\Panel{\colD}{\rD}{\wC}{141}{km}{}{\KMd}\Panel{\colE}{\rD}{\wC}{141}{pr}{}{\PRd}\Panel{\colF}{\rD}{\wC}{141}{pb}{}{\PBd}
% row 5
\Panel{\colA}{\rE}{\wA}{141.5}{pip}{yl}{\PPe}\Panel{\colB}{\rE}{\wB}{141.5}{pip}{}{\PMe}\Panel{\colC}{\rE}{\wC}{141.5}{kp}{}{\KPe}\Panel{\colD}{\rE}{\wC}{141.5}{km}{}{\KMe}\Panel{\colE}{\rE}{\wC}{141.5}{pr}{}{\PRe}\Panel{\colF}{\rE}{\wC}{141.5}{pb}{}{\PBe}
% row 6
\Panel{\colA}{\rF}{\wA}{134.5}{pip}{yl,xl}{\PPf}\Panel{\colB}{\rF}{\wB}{134.5}{pip}{xl}{\PMf}\Panel{\colC}{\rF}{\wC}{134.5}{kp}{xl}{\KPf}\Panel{\colD}{\rF}{\wC}{134.5}{km}{xl}{\KMf}\Panel{\colE}{\rF}{\wC}{134.5}{pr}{xl}{\PRf}\Panel{\colF}{\rF}{\wC}{134.5}{pb}{xl}{\PBf}
% column titles
\def\fntT{\fontsize{32}{34}\selectfont}
\node[font=\fntT] at (196pt,-17pt) {\textit{π}\textsuperscript{+}};
\node[font=\fntT] at (380pt,-17pt) {\textit{π}\textsuperscript{−}};
\node[font=\fntT] at (570pt,-17pt) {\textit{K}\textsuperscript{+}};
\node[font=\fntT] at (752pt,-17pt) {\textit{K}\textsuperscript{−}};
\node[font=\fntT] at (938pt,-19pt) {\textit{p}};
\node[font=\fntT] at (1107pt,-19pt) {\textit{p̄}};
% row labels
\def\fntR{\fontsize{23.5}{25}\selectfont\bfseries}
\foreach \lab/\yy in {13/110,19/265,30/425,40/583,75/740,150/900}
 \node[rotate=90,font=\fntR] at (23pt,-\yy pt) {\lab\textit{A} GeV/\textit{c}};
% pT labels
\def\fntP{\fontsize{21}{23}\selectfont}
\foreach \yy in {105,263,422,580,738,898}
 \node[rotate=90,font=\fntP] at (78pt,-\yy pt) {\textit{p}\textsubscript{\textit{T}} (GeV/\textit{c})};
% y labels
\def\fntY{\fontsize{28}{30}\selectfont}
\foreach \xx in {249,440,623,807,989,1172}
 \node[font=\fntY] at (\xx pt,-997pt) {\textit{y}};
\end{tikzpicture}
\end{document}
